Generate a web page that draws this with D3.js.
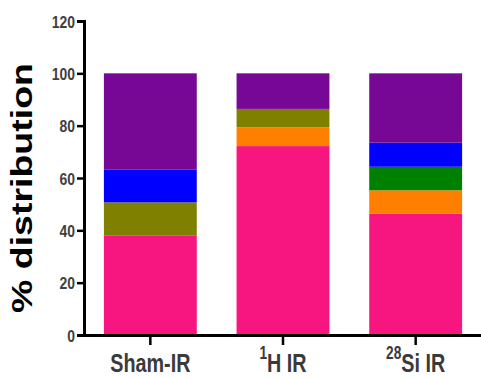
<!DOCTYPE html>
<html><head><meta charset="utf-8">
<script src="https://cdn.jsdelivr.net/npm/d3@7"></script>
<style>body{margin:0;background:#fff}</style>
</head><body>
<svg id="c" width="481" height="378"></svg>
<script>
const groups = ["Sham-IR", "1H IR", "28Si IR"];
const groupSup = ["", "1", "28"];
const groupMain = ["Sham-IR", "H IR", "Si IR"];
const seriesNames = ["pink", "orange", "green", "olive", "blue", "purple"];
const seriesColors = ["#F7167F", "#FF8000", "#008000", "#808000", "#0000FF", "#770896"];
const pink   = [38.1, 72.2, 46.4];
const orange = [0, 7.2, 8.9];
const green  = [0, 0, 9.0];
const olive  = [12.6, 7.0, 0];
const blue   = [12.6, 0, 9.2];
const purple = [36.7, 13.6, 26.5];
const yTicks = [0, 20, 40, 60, 80, 100, 120];

const seriesVals = [pink, orange, green, olive, blue, purple];
const table = groups.map((g, i) => {
  const row = {group: g};
  seriesNames.forEach((s, k) => row[s] = seriesVals[k][i]);
  return row;
});
const stacked = d3.stack().keys(seriesNames)(table);

const svg = d3.select("#c");
const x = d3.scaleBand().domain(groups).range([84, 482]).paddingInner(0.3).paddingOuter(0.15);
const y = d3.scaleLinear().domain([0, 120]).range([335, 21]);

svg.append("g").selectAll("g").data(stacked).join("g")
  .attr("fill", (d, i) => seriesColors[i])
  .selectAll("rect").data(d => d).join("rect")
  .attr("x", d => x(d.data.group))
  .attr("width", x.bandwidth())
  .attr("y", d => y(d[1]))
  .attr("height", d => Math.max(0, y(d[0]) - y(d[1])));

const font = "'Liberation Sans', Arial, sans-serif";

const ya = svg.append("g").attr("transform", "translate(84,0)")
  .call(d3.axisLeft(y).tickValues(yTicks).tickSize(7).tickPadding(2).tickFormat(d3.format("d")));
ya.select(".domain").attr("stroke", "#000").attr("stroke-width", 3);
ya.selectAll(".tick line").attr("stroke", "#000").attr("stroke-width", 2.5);
ya.selectAll(".tick text")
  .attr("x", 0).attr("dy", "0.36em")
  .attr("transform", "translate(-9,0) scale(0.82,1)")
  .attr("fill", "#404040").attr("font-family", font)
  .attr("font-weight", "bold").attr("font-size", 17);

const xa = svg.append("g").attr("transform", "translate(0,335)")
  .call(d3.axisBottom(x).tickSize(10).tickSizeOuter(0).tickPadding(6));
xa.select(".domain").attr("stroke", "#000").attr("stroke-width", 3);
xa.selectAll(".tick line").attr("stroke", "#000").attr("stroke-width", 2.5);
xa.selectAll(".tick text").each(function(d, i) {
  const t = d3.select(this).text(null)
    .attr("y", 37).attr("dy", null)
    .attr("transform", "scale(0.76,1)")
    .attr("fill", "#3a3a3a").attr("font-family", font).attr("font-weight", "bold")
    .attr("font-size", 26);
  if (groupSup[i]) {
    t.append("tspan").attr("font-size", 18).attr("dy", -13).text(groupSup[i]);
    t.append("tspan").attr("dy", 13).text(groupMain[i]);
  } else {
    t.append("tspan").text(groupMain[i]);
  }
});

svg.append("text")
  .attr("transform", "translate(32,188) rotate(-90)")
  .attr("text-anchor", "middle")
  .attr("font-family", "'Liberation Sans', Arial, sans-serif")
  .attr("font-weight", "bold").attr("font-size", 30)
  .attr("textLength", 250).attr("lengthAdjust", "spacingAndGlyphs")
  .attr("fill", "#000")
  .text("% distribution");
</script>
</body></html>
